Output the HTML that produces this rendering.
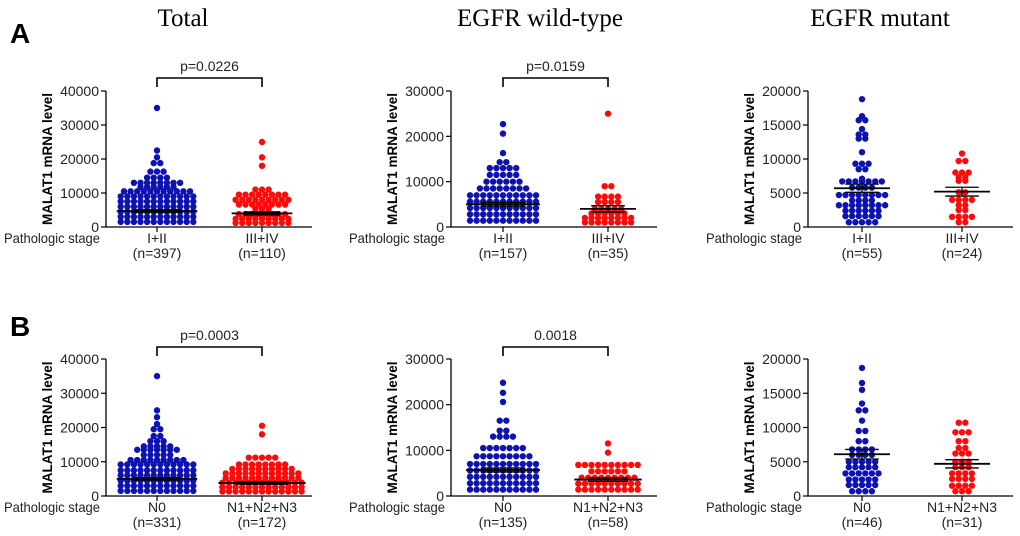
<!DOCTYPE html>
<html><head><meta charset="utf-8">
<style>
html,body{margin:0;padding:0;background:#fff;}
svg{display:block;font-family:"Liberation Sans",Arial,sans-serif;}
</style></head>
<body>
<svg id="fig" width="1020" height="536" viewBox="0 0 1020 536">
<text x="183" y="26" font-family="Liberation Serif,serif" font-size="25" text-anchor="middle">Total</text>
<text x="540" y="26" font-family="Liberation Serif,serif" font-size="25" text-anchor="middle">EGFR wild-type</text>
<text x="880" y="26" font-family="Liberation Serif,serif" font-size="25" text-anchor="middle">EGFR mutant</text>
<text x="10" y="43" font-size="28" font-weight="bold">A</text>
<text x="10" y="336" font-size="28" font-weight="bold">B</text>
</svg>
<script>
// ---- data ----
const totA_g1_levels=[1500,3000,4500,6000,7500,9000,10500,11800,13000,14500,16300,18800,20500,22500,35000];
const totA_g1_counts=[12,12,12,12,12,12,11,6,8,4,3,2,1,1,1];
const totA_g2_levels=[1200,2400,3800,5300,6600,8000,9500,11000,18000,20500,25000];
const totA_g2_counts=[9,9,8,3,8,9,8,3,1,1,1];
const wtA_g1_levels=[1400,2800,4200,5600,7000,8500,10000,11500,13000,14300,16300,20600,22700];
const wtA_g1_counts=[11,11,11,11,11,8,6,5,5,2,1,1,1];
const wtA_g2_levels=[1000,2000,3000,4000,5500,6700,9000,25000];
const wtA_g2_counts=[8,8,6,5,4,4,2,1];
const mutA_g1_levels=[700,1600,2400,3200,3900,4700,5800,6700,7100,8500,9300,11000,13000,13600,14400,15700,16300,18800];
const mutA_g1_counts=[5,6,6,8,4,8,4,7,1,2,3,1,2,2,1,2,1,1];
const mutA_g2_levels=[700,1500,2500,3200,4000,5100,6800,7300,8000,9700,10800];
const mutA_g2_counts=[2,4,2,2,4,2,2,2,3,2,1];
const totB_g1_levels=[1500,3000,4500,6000,7500,9200,10500,12000,13500,14500,16000,17500,19500,21000,23000,25000,35000];
const totB_g1_counts=[12,12,12,12,12,12,9,5,7,5,3,2,2,1,1,1,1];
const totB_g2_levels=[1300,2600,3900,5300,6600,7900,9200,11200,18000,20500];
const totB_g2_counts=[13,13,13,12,12,10,8,5,1,1];
const wtB_g1_levels=[1400,2800,4200,5600,7000,8700,10500,13000,14300,16500,20600,22600,24800];
const wtB_g1_counts=[11,11,11,11,11,9,7,4,2,2,1,1,1];
const wtB_g2_levels=[1400,2700,4000,5400,6800,9500,11500];
const wtB_g2_counts=[10,10,9,6,10,1,1];
const mutB_g1_levels=[700,1600,2400,3300,4200,5000,6000,6800,8000,9500,11000,12500,13500,15500,16500,18700];
const mutB_g1_counts=[4,5,5,6,5,5,4,4,2,2,1,2,1,1,1,1];
const mutB_g2_levels=[700,1500,2500,3300,4200,5000,6200,7000,8000,9300,10700];
const mutB_g2_counts=[3,4,4,4,3,3,3,2,2,3,2];
const means=[4700,4000,5000,4000,5700,5200,5000,3800,5700,3600,6100,4700];
const sems=[350,450,400,700,600,650,350,350,450,400,700,600];
const yMaxes=[40000,30000,20000];
const yTicksList=[[0,10000,20000,30000,40000],[0,10000,20000,30000],[0,5000,10000,15000,20000]];
const catA=["I+II","III+IV"], catB=["N0","N1+N2+N3"];
const nLabels=[["(n=397)","(n=110)"],["(n=157)","(n=35)"],["(n=55)","(n=24)"],["(n=331)","(n=172)"],["(n=135)","(n=58)"],["(n=46)","(n=31)"]];
const pvals=["p=0.0226","p=0.0159","","p=0.0003","0.0018",""];

const svg=document.getElementById('fig');
const NS='http://www.w3.org/2000/svg';
function mk(tag,attrs,parent){const e=document.createElementNS(NS,tag);for(const k in attrs)e.setAttribute(k,attrs[k]);(parent||svg).appendChild(e);return e;}

const panelAxisX=[106,451,808], panelEnd=[312,657,1013];
const centers=[[157,262],[503,608],[862,962]];
const groups=[[totA_g1_levels,totA_g1_counts,totA_g2_levels,totA_g2_counts],[wtA_g1_levels,wtA_g1_counts,wtA_g2_levels,wtA_g2_counts],[mutA_g1_levels,mutA_g1_counts,mutA_g2_levels,mutA_g2_counts],
[totB_g1_levels,totB_g1_counts,totB_g2_levels,totB_g2_counts],[wtB_g1_levels,wtB_g1_counts,wtB_g2_levels,wtB_g2_counts],[mutB_g1_levels,mutB_g1_counts,mutB_g2_levels,mutB_g2_counts]];
const colors=['#0d12b0','#ff0a0a'];

for(let p=0;p<6;p++){
  const col=p%3,row=Math.floor(p/3);
  const ax=panelAxisX[col], xe=panelEnd[col];
  const yTop=row?359:91, yBot=row?496:227;
  const ymax=yMaxes[col];
  const y=v=>yBot-(v/ymax)*(yBot-yTop);
  const g=mk('g',{});
  
  
  const yl=mk('line',{x1:ax,y1:yTop,x2:ax,y2:yBot,stroke:'#000','stroke-width':1.3},g);
  
  const xl=mk('line',{x1:ax,y1:yBot,x2:xe,y2:yBot,stroke:'#000','stroke-width':1.3},g);
  
  yTicksList[col].forEach(t=>{
    mk('line',{x1:ax-5,y1:y(t),x2:ax,y2:y(t),stroke:'#000','stroke-width':1.2},g);
    const tx=mk('text',{x:ax-7,y:y(t)+5,'font-size':14,'text-anchor':'end',fill:'#222'},g);
    tx.textContent=t;
    
  });
  const yt=mk('text',{x:0,y:0,'font-size':13.5,'font-weight':'bold','text-anchor':'middle',transform:`translate(${ax-54},${(yTop+yBot)/2}) rotate(-90)`},g);
  yt.textContent='MALAT1 mRNA level';
  
  const ps=mk('text',{x:ax-6,y:yBot+16,'font-size':14,'text-anchor':'end',fill:'#222',textLength:96,lengthAdjust:'spacingAndGlyphs'},g);
  ps.textContent='Pathologic stage';
  
  const cats=row?catB:catA;
  for(let k=0;k<2;k++){
    const cx=centers[col][k];
    mk('line',{x1:cx,y1:yBot,x2:cx,y2:yBot+5,stroke:'#000','stroke-width':1.2},g);
    const c1=mk('text',{x:cx,y:yBot+16,'font-size':14,'text-anchor':'middle',fill:'#222'},g);
    c1.textContent=cats[k];
    
    const c2=mk('text',{x:cx,y:yBot+31,'font-size':14,'text-anchor':'middle',fill:'#222'},g);
    c2.textContent=nLabels[p][k];
    
    const lv=groups[p][k*2], ct=groups[p][k*2+1];
    const sp=6.6;
    lv.forEach((v,i)=>{
      const n=ct[i];
      for(let j=0;j<n;j++){
        const d=mk('circle',{cx:cx+(j-(n-1)/2)*sp,cy:y(v),r:3.2,fill:colors[k]},g);
        
        
      }
    });
    let maxN=Math.max(...ct);
    const hw=Math.max(28,(maxN-1)/2*sp+4);
    const m=means[p*2+k], s=sems[p*2+k];
    const ml=mk('line',{x1:cx-hw,y1:y(m),x2:cx+hw,y2:y(m),stroke:'#000','stroke-width':1.8},g);
    
    const cw=hw*0.6;
    mk('line',{x1:cx,y1:y(m+s),x2:cx,y2:y(m-s),stroke:'#000','stroke-width':1.3},g);
    mk('line',{x1:cx-cw,y1:y(m+s),x2:cx+cw,y2:y(m+s),stroke:'#000','stroke-width':1.3},g);
    mk('line',{x1:cx-cw,y1:y(m-s),x2:cx+cw,y2:y(m-s),stroke:'#000','stroke-width':1.3},g);
  }
  if(pvals[p]){
    const by=row?347:78;
    const c0=centers[col][0],c1=centers[col][1];
    const br=mk('path',{d:`M${c0},${by+9}V${by}H${c1}V${by+9}`,fill:'none',stroke:'#000','stroke-width':1.6},g);
    
    const pt=mk('text',{x:(c0+c1)/2,y:by-7,'font-size':14,'text-anchor':'middle',fill:'#222'},g);
    pt.textContent=pvals[p];
    
  }
}
</script>
</body></html>
